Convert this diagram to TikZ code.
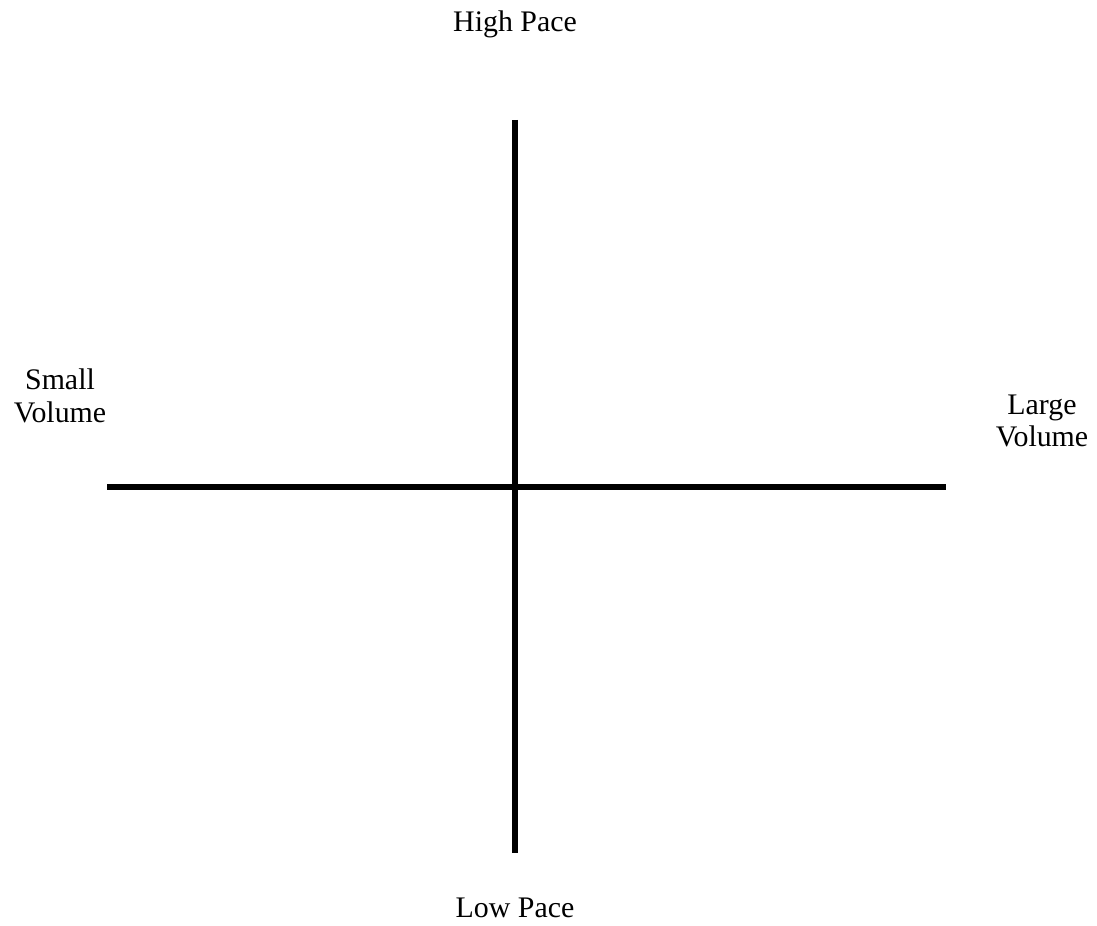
\documentclass[tikz,border=0pt]{standalone}
\usepackage{fontspec}
\setmainfont{Liberation Serif}
\begin{document}
\begin{tikzpicture}[x=0.02cm,y=-0.02cm,
  axis/.style={line width=0.13cm},
  lbl/.style={font=\fontsize{17}{18.5}\selectfont, align=center, inner sep=0pt}]
\useasboundingbox (0,0) rectangle (1097,925);
\coordinate (top) at (515,120);
\coordinate (bot) at (515,853);
\coordinate (left) at (107,487);
\coordinate (right) at (946,487);
\draw[axis] (top) -- (bot);
\draw[axis] (left) -- (right);
\node[lbl] (hp) at (515,24) {High Pace};
\node[lbl] (lp) at (515,908) {Low Pace};
\node[lbl] (sv) at (60,396) {Small\\Volume};
\node[lbl] (lv) at (1042,421) {Large\\Volume};
\end{tikzpicture}
\end{document}
